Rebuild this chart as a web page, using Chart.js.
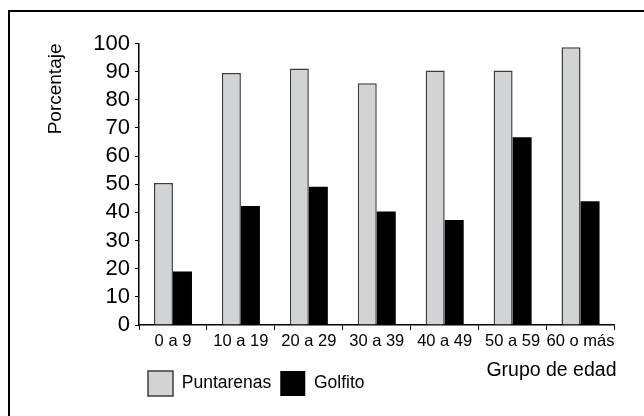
<!DOCTYPE html>
<html>
<head>
<meta charset="utf-8">
<script src="https://cdn.jsdelivr.net/npm/chart.js@4.4.0/dist/chart.umd.min.js"></script>
<style>
    html, body { margin: 0; padding: 0; background: #fff; }
    #wrap { position: relative; width: 644px; height: 416px; overflow: hidden; }
    #frame { position: absolute; left: 8px; top: 10px; width: 700px; height: 500px;
             border-left: 2.5px solid #000; border-top: 2.5px solid #000; }
    #chart { position: absolute; left: 0; top: 0; }
</style>
</head>
<body>
<div id="wrap">
    <div id="frame"></div>
    <canvas id="chart" width="644" height="416"></canvas>
</div>
<script>
// Age groups and the two series (percent)
const categories = ['0 a 9', '10 a 19', '20 a 29', '30 a 39', '40 a 49', '50 a 59', '60 o más'];
const puntarenas = [50.4, 89.5, 91.1, 85.9, 90.4, 90.4, 98.7];
const golfito = [19.0, 42.3, 49.1, 40.3, 37.3, 66.7, 44.0];
const seriesNames = ['Puntarenas', 'Golfito'];

// Axis range and titles
const yMin = 0;
const yMax = 100;
const yStep = 10;
const yTitle = 'Porcentaje';
const xTitle = 'Grupo de edad';

const sans = "'Liberation Sans', Arial, sans-serif";

// x axis title sits at the right, below the tick labels
const xTitlePlugin = {
    id: 'xTitle',
    afterDraw(chart) {
        const ctx = chart.ctx;
        const x = chart.scales.x;
        ctx.save();
        ctx.font = '19.5px ' + sans;
        ctx.fillStyle = '#000';
        ctx.textAlign = 'right';
        ctx.textBaseline = 'alphabetic';
        ctx.fillText(xTitle, x.right + 2, x.bottom + 14);
        ctx.restore();
    }
};

const ctx = document.getElementById('chart').getContext('2d');
new Chart(ctx, {
    type: 'bar',
    data: {
        labels: categories,
        datasets: [
            {
                label: seriesNames[0],
                data: puntarenas,
                backgroundColor: '#d2d3d5',
                borderColor: '#3c3c3c',
                borderWidth: 1.5,
                barPercentage: 1.0,
                categoryPercentage: 0.56
            },
            {
                label: seriesNames[1],
                data: golfito,
                backgroundColor: '#000',
                borderColor: '#000',
                borderWidth: 0,
                barPercentage: 1.0,
                categoryPercentage: 0.56
            }
        ]
    },
    options: {
        responsive: false,
        animation: false,
        layout: { padding: { left: 8, right: 29.5, top: 43.5, bottom: 10 } },
        plugins: {
            legend: {
                position: 'bottom',
                align: 'start',
                fullSize: false,
                labels: {
                    boxWidth: 25,
                    boxHeight: 25,
                    padding: 9,
                    color: '#000',
                    font: { family: sans, size: 17.5 }
                }
            },
            tooltip: { enabled: false }
        },
        scales: {
            x: {
                offset: true,
                grid: { offset: true, drawOnChartArea: false, drawTicks: true, tickLength: 5, color: '#000' },
                border: { color: '#000', width: 1.5 },
                ticks: { color: '#000', font: { family: sans, size: 16.5 }, padding: 2, maxRotation: 0, autoSkip: false },
                afterFit: (scale) => { scale.height = 37; }
            },
            y: {
                min: yMin,
                max: yMax,
                grid: { drawOnChartArea: false, drawTicks: true, tickLength: 4, color: '#000' },
                border: { color: '#000', width: 1.5 },
                ticks: { stepSize: yStep, autoSkip: false, color: '#000', font: { family: sans, size: 22 }, padding: 5 },
                title: {
                    display: true,
                    text: yTitle,
                    align: 'end',
                    color: '#000',
                    font: { family: sans, size: 19 },
                    padding: { top: 36, bottom: 0 }
                },
                afterFit: (scale) => { scale.width = 131; }
            }
        }
    },
    plugins: [xTitlePlugin]
});
</script>
</body>
</html>
